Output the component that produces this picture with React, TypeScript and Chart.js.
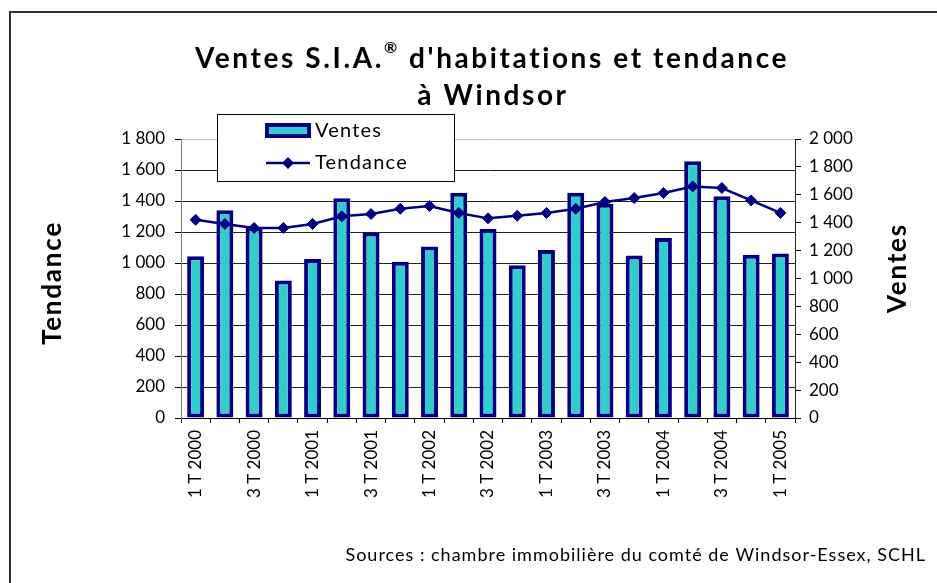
import React, { useEffect, useRef } from 'react';
import { Chart, registerables } from 'chart.js';

Chart.register(...registerables);

const quarters = [
  '1 T 2000', '2 T 2000', '3 T 2000', '4 T 2000',
  '1 T 2001', '2 T 2001', '3 T 2001', '4 T 2001',
  '1 T 2002', '2 T 2002', '3 T 2002', '4 T 2002',
  '1 T 2003', '2 T 2003', '3 T 2003', '4 T 2003',
  '1 T 2004', '2 T 2004', '3 T 2004', '4 T 2004',
  '1 T 2005',
];

const ventes = [
  1160, 1490, 1370, 985, 1140, 1575, 1330, 1120, 1230, 1615, 1355,
  1095, 1205, 1615, 1535, 1165, 1290, 1840, 1590, 1170, 1180,
];

const tendance = [
  1279, 1252, 1226, 1226, 1252, 1301, 1316, 1350, 1368, 1323, 1288,
  1305, 1323, 1350, 1394, 1419, 1452, 1494, 1484, 1404, 1323,
];

const titleLine1a = 'Ventes S.I.A.';
const titleSup = '®';
const titleLine1b = " d'habitations et tendance";
const titleLine2 = 'à Windsor';
const leftAxisTitle = 'Tendance';
const rightAxisTitle = 'Ventes';
const sourceText = 'Sources : chambre immobilière du comté de Windsor-Essex, SCHL';

const FONT = 'Lato, "Open Sans", "DejaVu Sans", sans-serif';

const fmt = (v: number) => {
  const s = String(Math.round(v));
  return s.length > 3 ? s.slice(0, s.length - 3) + ' ' + s.slice(-3) : s;
};

const setLS = (ctx: any, px: number) => {
  ctx.letterSpacing = `${px}px`;
};

const decorPlugin = {
  id: 'decor',
  afterDraw(chart: any) {
    const ctx = chart.ctx as CanvasRenderingContext2D;
    ctx.save();
    // frame
    ctx.strokeStyle = '#333';
    ctx.lineWidth = 2;
    ctx.strokeRect(10, 12, 940, 590);

    // title
    ctx.fillStyle = '#000';
    ctx.textBaseline = 'middle';
    setLS(ctx, 2.6);
    ctx.font = `bold 28px ${FONT}`;
    const wA = ctx.measureText(titleLine1a).width;
    const wB = ctx.measureText(titleLine1b).width;
    ctx.font = `bold 16px ${FONT}`;
    const wS = ctx.measureText(titleSup).width;
    const total = wA + wS + wB;
    const cx = 492;
    let x = cx - total / 2;
    ctx.textAlign = 'left';
    ctx.font = `bold 28px ${FONT}`;
    ctx.fillText(titleLine1a, x, 59);
    x += wA;
    ctx.font = `bold 16px ${FONT}`;
    ctx.fillText(titleSup, x, 48);
    x += wS;
    ctx.font = `bold 28px ${FONT}`;
    ctx.fillText(titleLine1b, x, 59);
    ctx.textAlign = 'center';
    ctx.fillText(titleLine2, cx + 1, 96);

    // axis titles
    setLS(ctx, 1.8);
    ctx.font = `bold 26px ${FONT}`;
    ctx.save();
    ctx.translate(53, 283);
    ctx.rotate(-Math.PI / 2);
    ctx.fillText(leftAxisTitle, 0, 0);
    ctx.restore();
    ctx.save();
    ctx.translate(898, 268);
    ctx.rotate(-Math.PI / 2);
    ctx.fillText(rightAxisTitle, 0, 0);
    ctx.restore();

    // source
    setLS(ctx, 1);
    ctx.font = `18px ${FONT}`;
    ctx.textAlign = 'right';
    ctx.fillText(sourceText, 926, 555);

    // legend
    setLS(ctx, 0);
    const ds = chart.data.datasets;
    ctx.fillStyle = '#fff';
    ctx.fillRect(217, 114, 237, 67);
    ctx.strokeStyle = '#000';
    ctx.lineWidth = 1;
    ctx.strokeRect(217.5, 114.5, 237, 67);
    // bar swatch
    ctx.fillStyle = ds[0].borderColor;
    ctx.fillRect(265, 123, 46, 15);
    ctx.fillStyle = ds[0].backgroundColor;
    ctx.fillRect(269, 127, 38, 7);
    // line swatch
    ctx.strokeStyle = ds[1].borderColor;
    ctx.lineWidth = ds[1].borderWidth;
    ctx.beginPath();
    ctx.moveTo(266, 163);
    ctx.lineTo(310, 163);
    ctx.stroke();
    ctx.fillStyle = ds[1].pointBackgroundColor;
    ctx.beginPath();
    ctx.moveTo(288, 157);
    ctx.lineTo(294, 163);
    ctx.lineTo(288, 169);
    ctx.lineTo(282, 163);
    ctx.closePath();
    ctx.fill();
    ctx.fillStyle = '#000';
    setLS(ctx, 1.2);
    ctx.font = `20px ${FONT}`;
    ctx.textAlign = 'left';
    ctx.fillText(ds[0].label, 315, 131);
    ctx.fillText(ds[1].label, 315, 163);
    setLS(ctx, 0);
    ctx.restore();
  },
};

export default function App() {
  const ref = useRef<HTMLCanvasElement | null>(null);
  useEffect(() => {
    if (!ref.current) return;
    const chart = new Chart(ref.current, {
      type: 'bar',
      data: {
        labels: quarters,
        datasets: [
          {
            type: 'bar',
            label: 'Ventes',
            data: ventes,
            backgroundColor: '#33CCCC',
            borderColor: '#000080',
            borderWidth: 4,
            borderSkipped: false,
            barPercentage: 0.58,
            categoryPercentage: 1,
            yAxisID: 'y1',
            order: 2,
          } as any,
          {
            type: 'line',
            label: 'Tendance',
            data: tendance,
            borderColor: '#000080',
            borderWidth: 2.5,
            pointStyle: 'rectRot',
            pointRadius: 5.5,
            pointBackgroundColor: '#000080',
            pointBorderColor: '#000080',
            pointBorderWidth: 1,
            tension: 0,
            yAxisID: 'y',
            order: 1,
          } as any,
        ],
      },
      options: {
        responsive: false,
        animation: false,
        layout: { padding: { top: 139, left: 0, right: 0, bottom: 0 } },
        plugins: {
          legend: { display: false },
          title: { display: false },
          tooltip: { enabled: false },
        },
        scales: {
          x: {
            offset: true,
            grid: {
              offset: true,
              drawOnChartArea: false,
              drawTicks: true,
              tickLength: 5,
              color: '#000',
            },
            border: { display: true, color: '#000', width: 1 },
            ticks: {
              autoSkip: false,
              minRotation: 90,
              maxRotation: 90,
              padding: 7,
              color: '#000',
              font: { family: FONT, size: 17 },
              callback: (_v: any, i: number) => (i % 2 === 0 ? quarters[i] : ''),
            },
            afterFit: (s: any) => {
              s.height = 583 - 418;
            },
          },
          y: {
            position: 'left',
            min: 0,
            max: 1800,
            ticks: {
              stepSize: 200,
              padding: 10,
              color: '#000',
              font: { family: FONT, size: 17 },
              callback: (v: any) => fmt(Number(v)),
            },
            grid: {
              color: (c: any) => (c.tick && c.tick.value === 1800 ? '#c0c0c0' : '#222'),
              tickColor: '#000',
              tickLength: 6,
              lineWidth: 1,
            },
            border: { display: true, color: '#808080', width: 1 },
            afterFit: (s: any) => {
              s.width = 181;
            },
          },
          y1: {
            position: 'right',
            min: 0,
            max: 2000,
            ticks: {
              stepSize: 200,
              padding: 8,
              color: '#000',
              font: { family: FONT, size: 17 },
              callback: (v: any) => fmt(Number(v)),
            },
            grid: {
              drawOnChartArea: false,
              tickColor: '#000',
              tickLength: 6,
            },
            border: { display: true, color: '#222', width: 1 },
            afterFit: (s: any) => {
              s.width = 937 - 795;
            },
          },
        },
      } as any,
      plugins: [decorPlugin],
    });
    return () => chart.destroy();
  }, []);
  return (
    <div style={{ position: 'fixed', left: 0, top: 0, width: 937, height: 583, background: '#fff' }}>
      <canvas ref={ref} width={937} height={583} />
    </div>
  );
}
